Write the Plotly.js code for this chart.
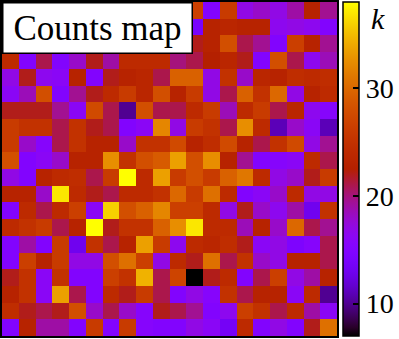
<!DOCTYPE html>
<html>
<head>
<meta charset="utf-8">
<script src="https://cdn.plot.ly/plotly-3.0.1.min.js"></script>
<style>
  html, body { margin: 0; padding: 0; background: #ffffff; }
</style>
</head>
<body>
<div id="chart"></div>
<script>
/* Counts map: 20 x 20 grid, row 0 is the top row */
var counts = [
    [21, 24, 18, 16, 25, 22, 19, 23, 26, 17, 24, 26.5, 15, 26, 17, 18, 17, 19, 23, 19.5],
    [18, 23, 15, 22, 20, 25, 17, 24, 21, 23, 19, 14, 23, 23.5, 23, 23, 16.5, 17, 16.5, 15],
    [25, 19, 22, 27, 16, 21, 24, 18, 22, 26, 20, 22, 23, 28, 21, 19.5, 15, 26.5, 23, 19.5],
    [24, 15, 21, 15, 18, 22, 19, 24, 24, 24, 20, 21, 22.5, 23.5, 22, 15, 28, 21, 16.5, 18.5],
    [17, 22, 16.5, 16, 23, 15, 22, 23, 23.5, 21, 29.5, 29.5, 17, 25, 18, 23.5, 23, 24.5, 24, 24.5],
    [16, 18.5, 28, 15, 19.5, 22, 24, 26, 23.5, 28, 23, 26, 17, 21, 29.5, 25, 30, 17, 23, 24],
    [22, 22, 22, 19.5, 16, 27.5, 21, 10, 28, 21, 21, 24, 26, 18.5, 24, 26, 21, 23.5, 16.5, 15.5],
    [26, 25, 25, 21, 25, 22, 21, 15, 16, 32, 17, 26, 25, 21, 32.5, 24, 11, 18, 16, 11],
    [26, 18, 15.5, 21, 25, 23, 23, 18, 25, 25, 27.5, 23, 24.5, 27.5, 23, 21, 25, 27.5, 17, 19.5],
    [28, 15, 16, 18, 23, 23, 32.5, 25, 28, 29, 33.5, 28, 32.5, 23, 19.5, 15, 15.5, 16, 24, 21],
    [17, 15, 23, 24, 24.5, 21, 26, 38, 24, 33.5, 26, 28, 26, 29.5, 31, 24, 17, 18, 22, 26],
    [23, 23, 18, 37, 24, 22, 21, 24, 24, 25, 30, 26, 30.5, 24, 15, 16, 18, 24, 17, 17],
    [15, 24, 21, 24, 26.5, 16, 36, 28, 29.5, 32, 26.5, 26.5, 24, 17, 22, 18, 16.5, 19, 13, 25],
    [24, 25, 26, 21, 23, 38, 22, 25, 25, 29.5, 32.5, 37, 24, 24, 18.5, 23, 18, 30, 21, 19.5],
    [15, 19, 15, 26, 13, 25, 21, 23, 33.5, 26, 16.5, 24, 23.5, 24.5, 22, 16, 17, 14.5, 15.5, 21],
    [15, 26.5, 23, 26, 17, 17, 28, 30.5, 26.5, 17, 24, 22, 30.5, 21, 25, 18, 17, 23, 23, 21],
    [22, 25, 16, 25, 15, 15, 26.5, 25, 34.5, 21, 27, 7, 22, 24, 15, 21, 26.5, 17, 19, 23],
    [23, 25, 16, 33.5, 21, 15, 24, 22, 26, 21, 15, 17, 15.5, 25, 21, 23, 23, 16, 24, 10],
    [24.5, 22, 21, 22, 28, 18, 21, 18, 15.5, 22, 21, 19.5, 15, 16.5, 26.5, 25, 21, 24, 19, 16],
    [15, 23, 19, 19, 15, 26, 15, 26, 15.5, 15, 15, 17, 16, 13.5, 24, 15, 17, 15, 22, 30.5]
];
var zMin = 7;
var zMax = 38;
var tickVals = [10, 20, 30];
var mapTitle = 'Counts map';
var barLabel = 'k';

/* gnuplot colormap: r = sqrt(x), g = x^3, b = sin(2 pi x) */
function gnuplotScale(n) {
    var scale = [];
    for (var i = 0; i <= n; i++) {
        var t = i / n;
        var r = Math.sqrt(t);
        var g = Math.pow(t, 3);
        var b = Math.max(0, Math.sin(2 * Math.PI * t));
        scale.push([t, 'rgb(' + Math.round(r * 255) + ',' + Math.round(g * 255) + ',' + Math.round(b * 255) + ')']);
    }
    return scale;
}

var data = [
    {
        type: 'heatmap',
        z: counts,
        zmin: zMin,
        zmax: zMax,
        colorscale: gnuplotScale(40),
        hoverinfo: 'z',
        colorbar: {
            x: 1.018,
            xanchor: 'left',
            xpad: 0,
            ypad: 0,
            y: 0.5,
            yanchor: 'middle',
            len: 1,
            thickness: 16,
            outlinewidth: 1.5,
            outlinecolor: '#000000',
            tickvals: tickVals,
            ticks: 'inside',
            ticklen: 6,
            tickwidth: 1.5,
            tickcolor: '#000000',
            tickfont: { family: 'Liberation Serif', size: 28, color: '#000000' }
        }
    }
];

var layout =
{
    width: 399,
    height: 339,
    margin: { l: 2, r: 62, t: 2, b: 3, autoexpand: false },
    paper_bgcolor: '#ffffff',
    plot_bgcolor: '#ffffff',
    xaxis: {
        range: [-0.5, 19.5],
        showticklabels: false,
        ticks: '',
        showgrid: false,
        zeroline: false,
        showline: true,
        mirror: true,
        linecolor: '#000000',
        linewidth: 2
    },
    yaxis: {
        range: [19.5, -0.5],
        showticklabels: false,
        ticks: '',
        showgrid: false,
        zeroline: false,
        showline: true,
        mirror: true,
        linecolor: '#000000',
        linewidth: 2
    },
    annotations: [
        {
            text: mapTitle,
            xref: 'paper', yref: 'paper',
            x: 0, y: 1,
            xanchor: 'left', yanchor: 'top',
            showarrow: false,
            align: 'center',
            width: 184,
            height: 45,
            borderpad: 2,
            bgcolor: '#ffffff',
            bordercolor: '#000000',
            borderwidth: 1.5,
            font: { family: 'Liberation Serif', size: 35, color: '#000000' }
        },
        {
            text: '<i>' + barLabel + '</i>',
            xref: 'paper', yref: 'paper',
            x: 1.095, y: 1,
            xanchor: 'left', yanchor: 'top',
            yshift: 2,
            showarrow: false,
            font: { family: 'Liberation Serif', size: 30, color: '#000000' }
        }
    ]
}

var config =
{
    displayModeBar: false
}

Plotly.newPlot('chart', data, layout, config);
</script>
</body>
</html>
